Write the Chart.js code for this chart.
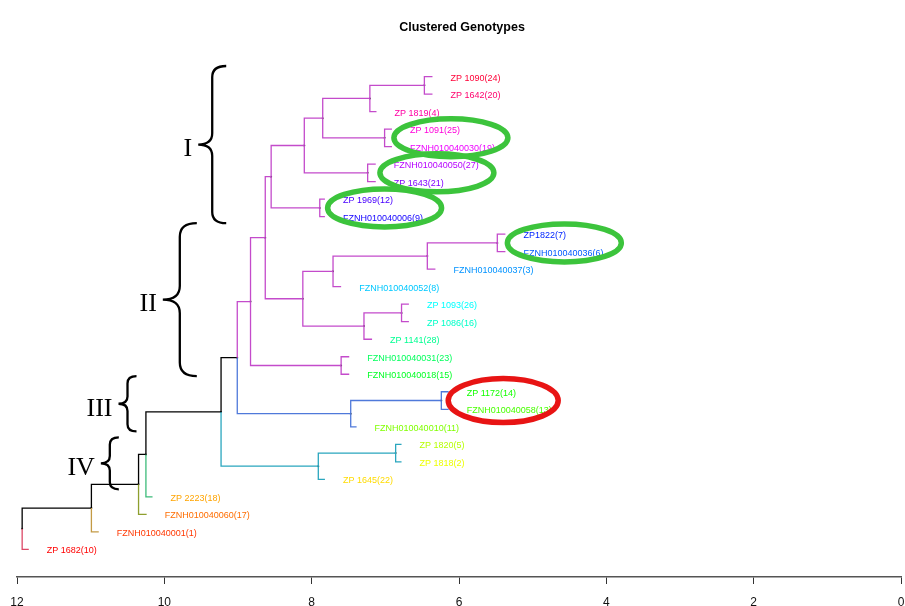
<!DOCTYPE html>
<html>
<head>
<meta charset="utf-8">
<title>Clustered Genotypes</title>
<script src="https://cdn.jsdelivr.net/npm/chart.js@4.4.1/dist/chart.umd.min.js"></script>
<style>
  body { margin: 0; background: #fff; }
  #wrap { width: 905px; height: 606px; position: relative; }
</style>
</head>
<body>
<div id="wrap"><canvas id="dendro"></canvas></div>
<script>
// leaves in drawing order, top to bottom
var leafLabels = [
    'ZP 1090(24)', 'ZP 1642(20)', 'ZP 1819(4)', 'ZP 1091(25)', 'FZNH010040030(19)',
    'FZNH010040050(27)', 'ZP 1643(21)', 'ZP 1969(12)', 'FZNH010040006(9)', 'ZP1822(7)',
    'FZNH010040036(6)', 'FZNH010040037(3)', 'FZNH010040052(8)', 'ZP 1093(26)', 'ZP 1086(16)',
    'ZP 1141(28)', 'FZNH010040031(23)', 'FZNH010040018(15)', 'ZP 1172(14)', 'FZNH010040058(13)',
    'FZNH010040010(11)', 'ZP 1820(5)', 'ZP 1818(2)', 'ZP 1645(22)', 'ZP 2223(18)',
    'FZNH010040060(17)', 'FZNH010040001(1)', 'ZP 1682(10)'
];
// where each leaf stub ends (distance)
var leafHeights = [
    6.36, 6.36, 7.12, 6.91, 6.91, 7.13, 7.13, 7.82, 7.82, 5.37,
    5.37, 6.32, 7.60, 6.68, 6.68, 7.18, 7.49, 7.49, 6.14, 6.14,
    7.39, 6.78, 6.78, 7.82, 10.16, 10.24, 10.89, 11.84
];
// branch colour group of each leaf
var leafCluster = [
    0, 0, 0, 0, 0, 0, 0, 0, 0, 0, 0, 0, 0, 0, 0, 0, 0, 0,
    1, 1, 1, 2, 2, 2, 3, 4, 5, 6
];
// merges: [a, b, height]; negative = leaf number, positive = earlier merge
var merges = [
    [-1, -2, 6.47], [1, -3, 7.21], [-4, -5, 7.01], [2, 3, 7.85], [-6, -7, 7.24],
    [4, 5, 8.10], [-8, -9, 7.89], [6, 7, 8.55], [-10, -11, 5.48], [9, -12, 6.43],
    [10, -13, 7.71], [-14, -15, 6.78], [12, -16, 7.29], [11, 13, 8.12], [8, 14, 8.63],
    [-17, -18, 7.60], [15, 16, 8.83], [-19, -20, 6.24], [18, -21, 7.47], [17, 19, 9.01],
    [-22, -23, 6.86], [21, -24, 7.91], [20, 22, 9.23], [23, -25, 10.25], [24, -26, 10.35],
    [25, -27, 10.99], [26, -28, 11.93]
];
var clusterColors = ['#C44BCB', '#4F79DA', '#2AA6BE', '#3DBB7A', '#8E9F2E', '#C39A45', '#DC4866'];
var xTicks = [12, 10, 8, 6, 4, 2, 0];

// annotations: brace groups and circled pairs
var braces = [
    { text: 'I',   top: 0.40,  bottom: 9.37,  x: 9.35,  arm: 14 },
    { text: 'II',  top: 9.37,  bottom: 18.11, x: 9.79,  arm: 17 },
    { text: 'III', top: 18.11, bottom: 21.26, x: 10.50, arm: 9 },
    { text: 'IV',  top: 21.60, bottom: 24.57, x: 10.74, arm: 9 }
];
var rings = [
    { x: 6.11, y: 4.5,  rx: 57, ry: 19, color: '#3CC43C' },
    { x: 6.30, y: 6.5,  rx: 57, ry: 19, color: '#3CC43C' },
    { x: 7.01, y: 8.5,  rx: 57, ry: 19, color: '#3CC43C' },
    { x: 4.57, y: 10.5, rx: 57, ry: 19, color: '#3CC43C' },
    { x: 5.40, y: 19.5, rx: 55, ry: 22, color: '#E81414' }
];

function nodePos(id) {
    if (id < 0) return { x: leafHeights[-id - 1], y: -id };
    var m = merges[id - 1];
    return { x: m[2], y: (nodePos(m[0]).y + nodePos(m[1]).y) / 2 };
}
function leavesOf(id) {
    if (id < 0) return [-id];
    var m = merges[id - 1];
    return leavesOf(m[0]).concat(leavesOf(m[1]));
}
function edgeColor(id) {
    var groups = leavesOf(id).map(function (l) { return leafCluster[l - 1]; });
    var same = groups.every(function (g) { return g === groups[0]; });
    return same ? clusterColors[groups[0]] : '#000000';
}

var datasets = [];
var dots = [];
merges.forEach(function (m, i) {
    var p = nodePos(i + 1);
    dots.push({ x: p.x, y: p.y });
    [m[0], m[1]].forEach(function (c) {
        var q = nodePos(c);
        datasets.push({
            data: [{ x: p.x, y: p.y }, { x: p.x, y: q.y }, { x: q.x, y: q.y }],
            showLine: true,
            borderColor: edgeColor(c),
            borderWidth: 1.3,
            pointRadius: 0,
            tension: 0
        });
    });
});
datasets.push({
    data: dots,
    showLine: false,
    pointRadius: 1,
    pointBackgroundColor: '#333',
    pointBorderWidth: 0
});

var decorations = {
    id: 'decorations',
    afterDatasetsDraw: function (chart) {
        var ctx = chart.ctx;
        var xs = chart.scales.x, ys = chart.scales.y;
        ctx.save();

        // leaf labels, rainbow from bottom (red) to top
        ctx.font = '9px "Liberation Sans", Arial, sans-serif';
        ctx.textAlign = 'left';
        ctx.textBaseline = 'middle';
        leafLabels.forEach(function (lab, i) {
            var k = leafLabels.length - 1 - i;
            ctx.fillStyle = 'hsl(' + (k * 360 / leafLabels.length) + ', 100%, 50%)';
            ctx.fillText(lab, xs.getPixelForValue(leafHeights[i]) + 18, ys.getPixelForValue(i + 1) + 1.5);
        });

        // circled pairs
        rings.forEach(function (r) {
            ctx.beginPath();
            ctx.ellipse(xs.getPixelForValue(r.x), ys.getPixelForValue(r.y), r.rx, r.ry, 0, 0, Math.PI * 2);
            ctx.lineWidth = 5.5;
            ctx.strokeStyle = r.color;
            ctx.stroke();
        });

        // braces with roman numerals
        ctx.strokeStyle = '#000';
        ctx.fillStyle = '#000';
        ctx.lineWidth = 2.3;
        ctx.font = '26px "Liberation Serif", "Times New Roman", serif';
        ctx.textAlign = 'right';
        braces.forEach(function (b) {
            var x = xs.getPixelForValue(b.x);
            var t = ys.getPixelForValue(b.top);
            var bt = ys.getPixelForValue(b.bottom);
            var mid = (t + bt) / 2;
            var w = b.arm;
            ctx.beginPath();
            ctx.moveTo(x + w, t);
            ctx.quadraticCurveTo(x, t, x, t + w * 0.8);
            ctx.lineTo(x, mid - w * 0.8);
            ctx.quadraticCurveTo(x, mid, x - w, mid);
            ctx.quadraticCurveTo(x, mid, x, mid + w * 0.8);
            ctx.lineTo(x, bt - w * 0.8);
            ctx.quadraticCurveTo(x, bt, x + w, bt);
            ctx.stroke();
            ctx.fillText(b.text, x - w - 6, mid + 5);
        });

        // title
        ctx.font = 'bold 12.5px "Liberation Sans", Arial, sans-serif';
        ctx.textAlign = 'center';
        ctx.fillText('Clustered Genotypes', 462, 28);
        ctx.restore();
    }
};

var config = {
    type: 'scatter',
    data: { datasets: datasets },
    options: {
        responsive: true,
        maintainAspectRatio: false,
        animation: false,
        layout: { padding: { top: 40, left: 17, right: 1, bottom: 0 } },
        plugins: { legend: { display: false }, tooltip: { enabled: false } },
        scales: {
            x: {
                type: 'linear',
                reverse: true,
                min: 0,
                max: 12,
                afterBuildTicks: function (scale) {
                    scale.ticks = xTicks.map(function (v) { return { value: v }; });
                },
                afterFit: function (scale) {
                    scale.height = 29;
                    scale.paddingLeft = 0;
                    scale.paddingRight = 0;
                },
                border: { display: true, color: '#555', width: 1.5 },
                grid: { drawOnChartArea: false, drawTicks: true, tickLength: 7, tickColor: '#333' },
                ticks: { color: '#111', padding: 11, maxRotation: 0, autoSkip: false,
                         font: { family: '"Liberation Sans", Arial, sans-serif', size: 12 } }
            },
            y: {
                type: 'linear',
                display: false,
                reverse: true,
                min: -1.086,
                max: 29.577
            }
        }
    },
    plugins: [decorations]
};

window.onload = function () {
    var ctx = document.getElementById('dendro').getContext('2d');
    window.dendro = new Chart(ctx, config);
};
</script>
</body>
</html>
